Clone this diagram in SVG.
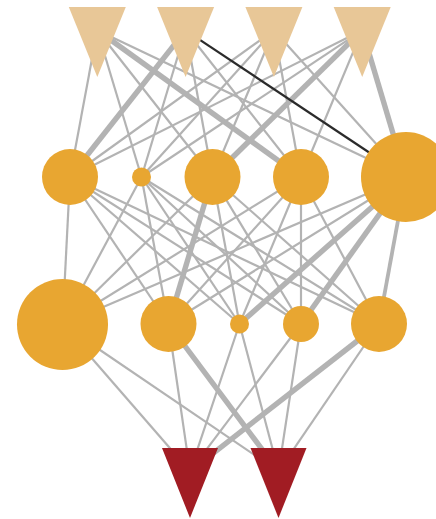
<svg xmlns="http://www.w3.org/2000/svg" width="436" height="519" viewBox="0 0 436 519">
<style>
.e{stroke:#b3b3b3;stroke-width:2.2;fill:none}
.m{stroke:#b3b3b3;stroke-width:3.8;fill:none}
.t{stroke:#b3b3b3;stroke-width:5.4;fill:none}
.d{stroke:#2b2b2b;stroke-width:2.2;fill:none}
.in{fill:#e8c797}
.hid{fill:#e8a631}
.out{fill:#a11c23}
</style>
<rect width="436" height="519" fill="#ffffff"/>
<g id="connectors">
<line class="e" x1="97.3" y1="30.3" x2="70" y2="177"/>
<line class="e" x1="97.3" y1="30.3" x2="141.5" y2="177"/>
<line class="e" x1="97.3" y1="30.3" x2="212.5" y2="177"/>
<line class="t" x1="97.3" y1="30.3" x2="301" y2="177"/>
<line class="e" x1="97.3" y1="30.3" x2="406" y2="177"/>
<line class="t" x1="185.6" y1="30.3" x2="70" y2="177"/>
<line class="e" x1="185.6" y1="30.3" x2="141.5" y2="177"/>
<line class="e" x1="185.6" y1="30.3" x2="212.5" y2="177"/>
<line class="e" x1="185.6" y1="30.3" x2="301" y2="177"/>
<line class="e" x1="273.9" y1="30.3" x2="70" y2="177"/>
<line class="e" x1="273.9" y1="30.3" x2="141.5" y2="177"/>
<line class="e" x1="273.9" y1="30.3" x2="212.5" y2="177"/>
<line class="e" x1="273.9" y1="30.3" x2="301" y2="177"/>
<line class="e" x1="273.9" y1="30.3" x2="406" y2="177"/>
<line class="e" x1="362.2" y1="30.3" x2="70" y2="177"/>
<line class="e" x1="362.2" y1="30.3" x2="141.5" y2="177"/>
<line class="t" x1="362.2" y1="30.3" x2="212.5" y2="177"/>
<line class="e" x1="362.2" y1="30.3" x2="301" y2="177"/>
<line class="t" x1="362.2" y1="30.3" x2="406" y2="177"/>
<line class="e" x1="70" y1="177" x2="62.5" y2="324.5"/>
<line class="e" x1="70" y1="177" x2="168.5" y2="324"/>
<line class="e" x1="70" y1="177" x2="239.5" y2="324"/>
<line class="e" x1="70" y1="177" x2="301" y2="324"/>
<line class="e" x1="70" y1="177" x2="379" y2="324"/>
<line class="e" x1="141.5" y1="177" x2="62.5" y2="324.5"/>
<line class="e" x1="141.5" y1="177" x2="168.5" y2="324"/>
<line class="e" x1="141.5" y1="177" x2="239.5" y2="324"/>
<line class="e" x1="141.5" y1="177" x2="301" y2="324"/>
<line class="e" x1="141.5" y1="177" x2="379" y2="324"/>
<line class="e" x1="212.5" y1="177" x2="62.5" y2="324.5"/>
<line class="t" x1="212.5" y1="177" x2="168.5" y2="324"/>
<line class="e" x1="212.5" y1="177" x2="239.5" y2="324"/>
<line class="e" x1="212.5" y1="177" x2="301" y2="324"/>
<line class="e" x1="212.5" y1="177" x2="379" y2="324"/>
<line class="e" x1="301" y1="177" x2="62.5" y2="324.5"/>
<line class="e" x1="301" y1="177" x2="168.5" y2="324"/>
<line class="e" x1="301" y1="177" x2="239.5" y2="324"/>
<line class="e" x1="301" y1="177" x2="301" y2="324"/>
<line class="e" x1="301" y1="177" x2="379" y2="324"/>
<line class="e" x1="406" y1="177" x2="62.5" y2="324.5"/>
<line class="e" x1="406" y1="177" x2="168.5" y2="324"/>
<line class="t" x1="406" y1="177" x2="239.5" y2="324"/>
<line class="t" x1="406" y1="177" x2="301" y2="324"/>
<line class="m" x1="406" y1="177" x2="379" y2="324"/>
<line class="e" x1="62.5" y1="324.5" x2="190" y2="471.3"/>
<line class="e" x1="62.5" y1="324.5" x2="278.5" y2="471.3"/>
<line class="e" x1="168.5" y1="324" x2="190" y2="471.3"/>
<line class="t" x1="168.5" y1="324" x2="278.5" y2="471.3"/>
<line class="e" x1="239.5" y1="324" x2="190" y2="471.3"/>
<line class="e" x1="239.5" y1="324" x2="278.5" y2="471.3"/>
<line class="e" x1="301" y1="324" x2="190" y2="471.3"/>
<line class="e" x1="301" y1="324" x2="278.5" y2="471.3"/>
<line class="t" x1="379" y1="324" x2="190" y2="471.3"/>
<line class="e" x1="379" y1="324" x2="278.5" y2="471.3"/>
<line class="d" x1="185.6" y1="30.3" x2="406" y2="177"/>
</g>
<g id="in1"><polygon class="in" points="68.8,7 125.8,7 97.3,77"/></g>
<g id="in2"><polygon class="in" points="157.1,7 214.1,7 185.6,77"/></g>
<g id="in3"><polygon class="in" points="245.4,7 302.4,7 273.9,77"/></g>
<g id="in4"><polygon class="in" points="333.7,7 390.7,7 362.2,77"/></g>
<g id="h1"><circle class="hid" cx="70" cy="177" r="28"/></g>
<g id="h2"><circle class="hid" cx="141.5" cy="177" r="9.5"/></g>
<g id="h3"><circle class="hid" cx="212.5" cy="177" r="28"/></g>
<g id="h4"><circle class="hid" cx="301" cy="177" r="28"/></g>
<g id="h5"><circle class="hid" cx="406" cy="177" r="45"/></g>
<g id="g1"><circle class="hid" cx="62.5" cy="324.5" r="45.5"/></g>
<g id="g2"><circle class="hid" cx="168.5" cy="324" r="28"/></g>
<g id="g3"><circle class="hid" cx="239.5" cy="324" r="9.5"/></g>
<g id="g4"><circle class="hid" cx="301" cy="324" r="18"/></g>
<g id="g5"><circle class="hid" cx="379" cy="324" r="28"/></g>
<g id="out1"><polygon class="out" points="162,448 218,448 190,518"/></g>
<g id="out2"><polygon class="out" points="250.5,448 306.5,448 278.5,518"/></g>
</svg>
